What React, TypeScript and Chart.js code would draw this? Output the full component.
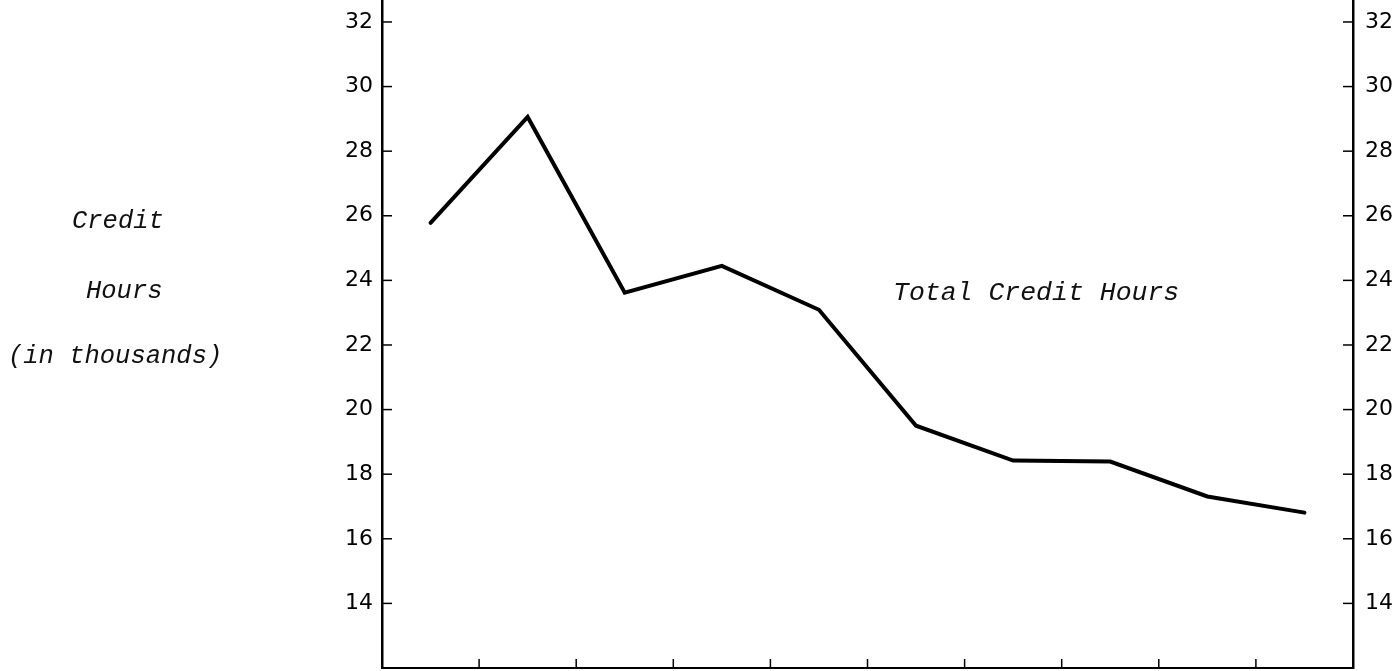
import React, { useEffect, useRef } from 'react';
import { Chart, registerables } from 'chart.js';

Chart.register(...registerables);

// ---- data ----
const categories = ['1', '2', '3', '4', '5', '6', '7', '8', '9', '10'];
const totalCreditHours = [25.78, 29.06, 23.62, 24.45, 23.09, 19.5, 18.42, 18.39, 17.31, 16.81];
const yTickValues = [14, 16, 18, 20, 22, 24, 26, 28, 30, 32];
const yMin = 12;
const yMax = 32.68;
const axisTitleLines = ['Credit', 'Hours', '(in thousands)'];
const axisTitleLevels = [25.84, 23.67, 21.64];
const seriesLabel = 'Total Credit Hours';
const seriesLabelLevel = 23.6;

const tickFont = { family: '"DejaVu Sans", sans-serif', size: 22 };
const noteFont = 'italic 25.5px "Liberation Mono", monospace';

const overlayPlugin = {
  id: 'overlay',
  afterDraw(chart: any) {
    const ctx = chart.ctx;
    const { left, right, bottom } = chart.chartArea;
    const ys = chart.scales.y;
    const xs = chart.scales.x;
    ctx.save();
    ctx.strokeStyle = '#000';
    ctx.lineWidth = 1.5;
    const seg = (x1: number, y1: number, x2: number, y2: number) => {
      ctx.beginPath();
      ctx.moveTo(x1, y1);
      ctx.lineTo(x2, y2);
      ctx.stroke();
    };
    yTickValues.forEach((v) => {
      const py = ys.getPixelForValue(v);
      seg(left, py, left + 10, py);
      seg(right - 10, py, right, py);
    });
    for (let i = 1; i < categories.length; i++) {
      const px = xs.getPixelForValue(i - 0.5);
      seg(px, bottom, px, bottom - 9);
    }
    ctx.fillStyle = '#111';
    ctx.font = noteFont;
    ctx.textBaseline = 'middle';
    ctx.textAlign = 'left';
    const starts = [72, 86, 8];
    axisTitleLines.forEach((t, i) => ctx.fillText(t, starts[i], ys.getPixelForValue(axisTitleLevels[i])));
    ctx.font = 'italic 26.5px "Liberation Mono", monospace';
    ctx.fillText(seriesLabel, 893, ys.getPixelForValue(seriesLabelLevel));
    ctx.restore();
  },
};

const noPad = (s: any) => {
  s.paddingTop = 0;
  s.paddingBottom = 0;
  s.paddingLeft = 0;
  s.paddingRight = 0;
};

export default function App() {
  const ref = useRef<HTMLCanvasElement | null>(null);
  useEffect(() => {
    if (!ref.current) return;
    const setTicks = (scale: any) => {
      scale.ticks = yTickValues.map((v) => ({ value: v }));
    };
    const chart = new Chart(ref.current, {
      type: 'line',
      data: {
        labels: categories,
        datasets: [
          {
            label: seriesLabel,
            data: totalCreditHours,
            borderColor: '#000',
            borderWidth: 4,
            pointRadius: 0,
            tension: 0,
            borderCapStyle: 'round',
            borderJoinStyle: 'miter',
            fill: false,
            yAxisID: 'y',
          },
        ],
      },
      options: {
        responsive: false,
        animation: false,
        layout: { padding: 0 },
        plugins: { legend: { display: false }, tooltip: { enabled: false }, title: { display: false } },
        scales: {
          x: {
            type: 'category',
            offset: true,
            ticks: { display: false },
            grid: { display: true, drawOnChartArea: false, drawTicks: false, color: 'rgba(0,0,0,0)' },
            border: { display: true, color: '#000', width: 2 },
            afterFit: (s: any) => {
              s.height = 3;
              noPad(s);
            },
          },
          y: {
            type: 'linear',
            position: 'left',
            min: yMin,
            max: yMax,
            afterBuildTicks: setTicks,
            ticks: { color: '#000', font: tickFont, padding: 9 },
            grid: { display: true, drawOnChartArea: false, drawTicks: false, color: 'rgba(0,0,0,0)' },
            border: { display: true, color: '#000', width: 2.5 },
            afterFit: (s: any) => {
              s.width = 382;
              noPad(s);
            },
          },
          y2: {
            type: 'linear',
            position: 'right',
            min: yMin,
            max: yMax,
            afterBuildTicks: setTicks,
            ticks: { color: '#000', font: tickFont, padding: 12 },
            grid: { display: true, drawOnChartArea: false, drawTicks: false, color: 'rgba(0,0,0,0)' },
            border: { display: true, color: '#000', width: 2.5 },
            afterFit: (s: any) => {
              s.width = 47;
              noPad(s);
            },
          },
        },
      } as any,
      plugins: [overlayPlugin],
    });
    return () => chart.destroy();
  }, []);
  return (
    <div style={{ position: 'fixed', left: 0, top: 0, width: 1400, height: 671, background: '#fff' }}>
      <canvas ref={ref} width={1400} height={671} style={{ display: 'block' }} />
    </div>
  );
}
